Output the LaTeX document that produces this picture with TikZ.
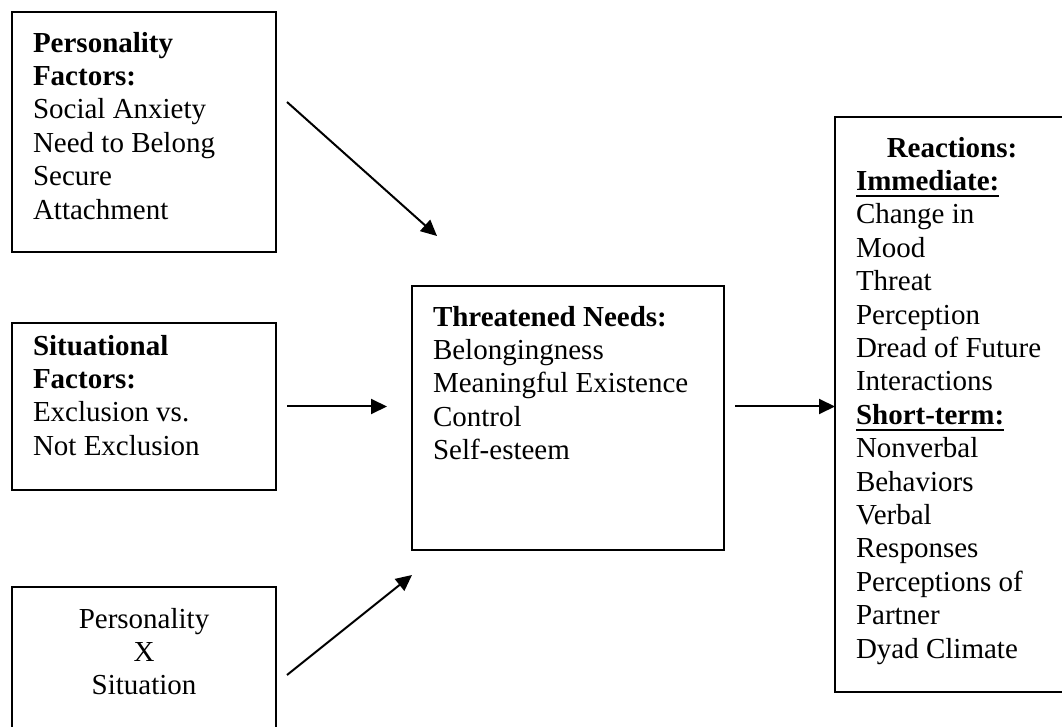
\documentclass[tikz,border=0pt]{standalone}
\usepackage{fontspec}
\setmainfont{Liberation Serif}
\usetikzlibrary{arrows.meta,positioning,calc}
\tikzset{
  stagebox/.style={draw,line width=1pt,anchor=north west,outer sep=0pt,
                   inner xsep=10.5pt,inner ysep=10pt,
                   font=\fontsize{14.5pt}{16.7pt}\selectfont},
  ar/.style      ={-{Triangle[length=8pt,width=7.5pt]},line width=1pt},
}
\newcommand{\stagetxt}[3]{\parbox[c][#2][t]{#1}{#3}}
\newcommand{\uhead}[1]{\leavevmode\vtop{\hbox{\textbf{#1}}\kern2pt\hrule height 1.1pt}}

\begin{document}
\begin{tikzpicture}[x=0.5pt,y=-0.5pt]
\useasboundingbox (0,0) rectangle (1062,727);
\clip (0,0) rectangle (1062,727);
\node[stagebox] (pers) at (12,12) {\stagetxt{111pt}{100pt}{\textbf{Personality}\\
  \textbf{Factors:}\\ Social Anxiety\\ Need to Belong\\ Secure\\ Attachment}};
\node[stagebox,inner ysep=6pt] (sit) at (12,323) {\stagetxt{111pt}{71.5pt}{\textbf{Situational}\\
  \textbf{Factors:}\\ Exclusion vs.\\ Not Exclusion}};
\node[stagebox,inner ysep=10.5pt] (px) at (12,587) {\stagetxt{111pt}{59pt}{\centering
  Personality\\ X\\ Situation}};
\node[stagebox] (thr) at (412,286) {\stagetxt{135pt}{112pt}{\textbf{Threatened Needs:}\\
  Belongingness\\ Meaningful Existence\\ Control\\ Self-esteem}};
\node[stagebox] (reac) at (835,117) {\stagetxt{96pt}{267.5pt}{\centering\textbf{Reactions:}\par
  \raggedright\uhead{Immediate:}\\ Change in\\ Mood\\ Threat\\ Perception\\ Dread of Future\\
  Interactions\\ \uhead{Short-term:}\\ Nonverbal\\ Behaviors\\ Verbal\\ Responses\\
  Perceptions of\\ Partner\\ Dyad Climate}};
\draw[ar] ($(pers.east)+(11,-30)$) -- ($(thr.north west)+(25,-50)$);
\draw[ar,shorten <=5.5pt,shorten >=12.5pt] (sit.east) -- (thr.west |- sit.east);
\draw[ar] ($(px.north east)+(11,88)$) -- ($(thr.south west)+(0,25)$);
\draw[ar,shorten <=5.5pt] (thr.east |- sit.east) -- (reac.west |- sit.east);
\end{tikzpicture}
\end{document}
